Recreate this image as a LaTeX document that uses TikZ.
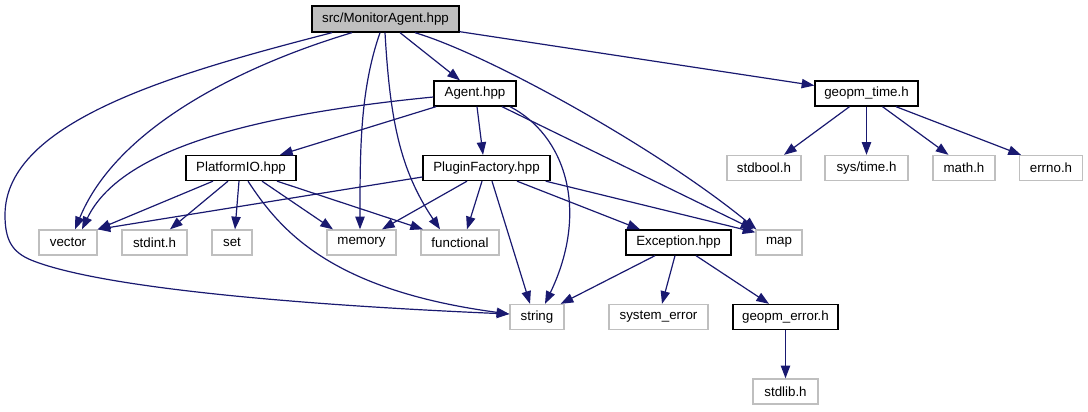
\documentclass[tikz,border=0pt]{standalone}
\usepackage{fontspec}
\setmainfont{Liberation Sans}
\usetikzlibrary{arrows.meta,calc}
\definecolor{edgeblue}{HTML}{191970}
\definecolor{grey75}{HTML}{BFBFBF}
\begin{document}
\begin{tikzpicture}[x=0.75pt,y=-0.75pt,
  base/.style={rectangle,inner sep=0pt,minimum height=18.75pt,font=\fontsize{10}{12}\selectfont,line width=1pt},
  doc/.style={base,draw=black,fill=white},
  ext/.style={base,draw=grey75,fill=white},
  root/.style={base,draw=black,fill=grey75,minimum height=19.5pt},
  e/.style={draw=edgeblue,line width=0.9pt,-{Triangle[length=9.5pt,width=7pt]},edgeblue}]
\useasboundingbox (0,0) rectangle (1088,411);
% nodes
\node[root,minimum width=110.25pt] (MA) at (385.5,19) {src/MonitorAgent.hpp};
\node[doc,minimum width=61.5pt] (agent) at (475,93.5) {Agent.hpp};
\node[doc,minimum width=77.25pt] (gtime) at (866.5,93.5) {geopm\_time.h};
\node[doc,minimum width=82.5pt] (pio) at (241,168) {PlatformIO.hpp};
\node[doc,minimum width=95.25pt] (pf) at (486.5,168) {PluginFactory.hpp};
\node[ext,minimum width=55.5pt] (stdbool) at (764,168) {stdbool.h};
\node[ext,minimum width=62.25pt] (systime) at (866.5,168) {sys/time.h};
\node[ext,minimum width=46.5pt] (math) at (964,168) {math.h};
\node[ext,minimum width=47.25pt] (errno) at (1051,168) {errno.h};
\node[ext,minimum width=43.5pt] (vec) at (68,242.5) {vector};
\node[ext,minimum width=48.75pt] (stdint) at (154.5,242.5) {stdint.h};
\node[ext,minimum width=30pt] (set) at (232,242.5) {set};
\node[ext,minimum width=51.75pt] (mem) at (361.5,242.5) {memory};
\node[ext,minimum width=58.5pt] (func) at (460,242.5) {functional};
\node[doc,minimum width=78.75pt] (exc) at (678.5,242.5) {Exception.hpp};
\node[ext,minimum width=34.5pt] (map) at (779,242.5) {map};
\node[ext,minimum width=40.5pt] (str) at (537,317) {string};
\node[ext,minimum width=74.25pt] (syserr) at (658.5,317) {system\_error};
\node[doc,minimum width=78.75pt] (gerr) at (785.5,317) {geopm\_error.h};
\node[ext,minimum width=48.75pt] (stdlib) at (785.5,391.5) {stdlib.h};
% edges from MonitorAgent
\draw[e] ($(MA.south)+(-53.5,0)$) .. controls (180,72) and (5,120) .. (5,215)
  .. controls (5,240) and (12,252) .. (31,260)
  .. controls (100,288) and (300,305) .. ($(str.west)+(0,-3)$);
\draw[e] ($(MA.south)+(-33.5,0)$) .. controls (260,60) and (120,120) .. ($(vec.north)+(7,0)$);
\draw[e] ($(MA.south)+(-5.5,0)$) .. controls (360,90) and (360,150) .. ($(mem.north)+(-1.5,0)$);
\draw[e] ($(MA.south)+(-0.5,0)$) .. controls (390,120) and (400,170) .. ($(func.north)+(-20,0)$);
\draw[e] ($(MA.south)+(14.5,0)$) -- ($(agent.north)+(-15,0)$);
\draw[e] ($(MA.south)+(29.5,0)$) .. controls (490,55) and (660,150) .. ($(map.north west)+(1,0)$);
\draw[e] ($(MA.south east)+(0,-1)$) -- ($(gtime.west)+(0,-8)$);
% edges from Agent
\draw[e] ($(agent.west)+(0,3.5)$) .. controls (250,115) and (120,150) .. ($(vec.north)+(14,0)$);
\draw[e] ($(agent.south)+(-39,0)$) -- ($(pio.north)+(39,0)$);
\draw[e] ($(agent.south)+(2,0)$) -- ($(pf.north)+(-3.5,0)$);
\draw[e] ($(agent.south)+(27,0)$) -- ($(map.north west)+(-2,0)$);
\draw[e] ($(agent.south)+(35,0)$) .. controls (565,135) and (590,210) .. ($(str.north)+(8,0)$);
% edges from PlatformIO
\draw[e] ($(pio.south)+(-28,0)$) -- (vec.north east);
\draw[e] ($(pio.south)+(-13,0)$) -- ($(stdint.north)+(15.5,0)$);
\draw[e] ($(pio.south)+(-2,0)$) -- ($(set.north)+(3,0)$);
\draw[e] ($(pio.south)+(21,0)$) -- ($(mem.north)+(-28.5,0)$);
\draw[e] ($(pio.south)+(36,0)$) -- ($(func.north)+(-37,0)$);
\draw[e] ($(pio.south)+(7,0)$) .. controls (280,230) and (330,290) .. ($(str.west)+(0,-3)$);
% edges from PluginFactory
\draw[e] ($(pf.west)+(0,9)$) -- (vec.north east);
\draw[e] ($(pf.south)+(-19.5,0)$) -- ($(mem.north)+(20.5,0)$);
\draw[e] ($(pf.south)+(-4.5,0)$) -- ($(func.north)+(7,0)$);
\draw[e] ($(pf.south)+(5.5,0)$) -- ($(str.north)+(-7,0)$);
\draw[e] ($(pf.south)+(30.5,0)$) -- ($(exc.north)+(-38.5,0)$);
\draw[e] ($(pf.south east)+(-5,0)$) -- ($(map.north west)+(0,3)$);
% edges from Exception
\draw[e] ($(exc.south)+(-23.5,0)$) -- ($(str.north east)+(-4,0)$);
\draw[e] ($(exc.south)+(-3.5,0)$) -- ($(syserr.north)+(3.5,0)$);
\draw[e] ($(exc.south)+(17.5,0)$) -- ($(gerr.north)+(-16.5,0)$);
\draw[e] (gerr.south) -- (stdlib.north);
% edges from geopm_time
\draw[e] ($(gtime.south)+(-17,0)$) -- ($(stdbool.north)+(20,0)$);
\draw[e] (gtime.south) -- (systime.north);
\draw[e] ($(gtime.south)+(16,0)$) -- ($(math.north)+(-15.5,0)$);
\draw[e] ($(gtime.south)+(29.5,0)$) -- ($(errno.north)+(-30,0)$);
\end{tikzpicture}
\end{document}
